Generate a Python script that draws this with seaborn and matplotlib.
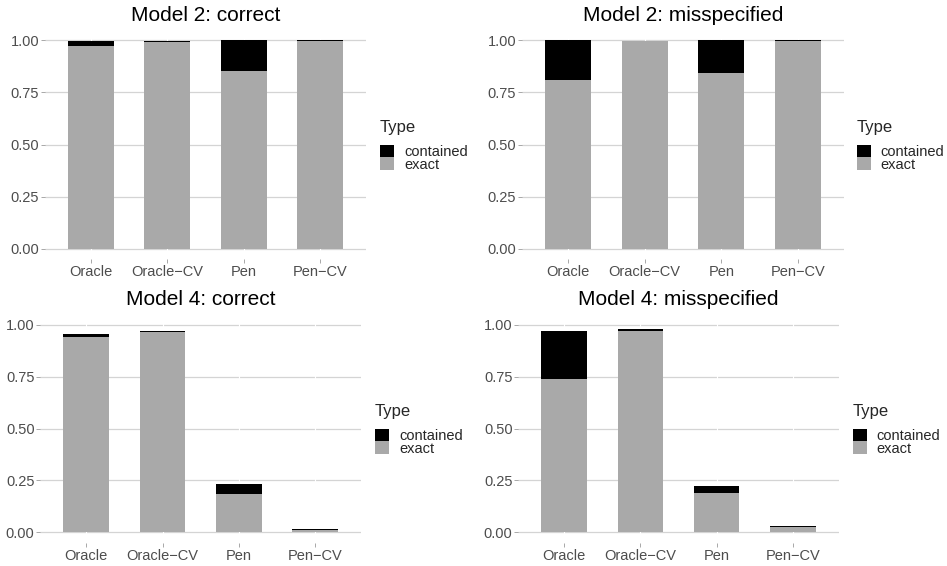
import matplotlib
matplotlib.use("Agg")
import matplotlib.pyplot as plt
from matplotlib.patches import Patch
import seaborn as sns
import pandas as pd

methods = ["Oracle", "Oracle−CV", "Pen", "Pen−CV"]
types = ["contained", "exact"]

m2c_exact = [0.975, 0.993, 0.854, 0.997]
m2c_contained = [0.023, 0.005, 0.146, 0.003]
m2m_exact = [0.810, 0.995, 0.843, 0.998]
m2m_contained = [0.190, 0.004, 0.157, 0.002]
m4c_exact = [0.942, 0.965, 0.186, 0.011]
m4c_contained = [0.013, 0.004, 0.047, 0.005]
m4m_exact = [0.738, 0.969, 0.191, 0.026]
m4m_contained = [0.231, 0.010, 0.034, 0.004]

titles = ["Model 2: correct", "Model 2: misspecified",
          "Model 4: correct", "Model 4: misspecified"]
yticks = [0.0, 0.25, 0.5, 0.75, 1.0]
ytick_labels = ["0.00", "0.25", "0.50", "0.75", "1.00"]

sns.set_theme(style="white")
plt.rcParams["font.family"] = ["Liberation Sans", "DejaVu Sans"]

W, H = 947, 566
fig = plt.figure(figsize=(W / 100, H / 100), dpi=100)

# panel boxes in pixels: left, right, top, bottom ; legend key left x, legend center y
boxes = [
    (45, 366, 29.9, 259.4, 380, 146),
    (522, 844, 29.9, 259.4, 856.7, 146),
    (40.4, 361, 314.3, 542.7, 375, 430),
    (518.4, 838.6, 314.3, 542.7, 852.7, 430),
]
series = [
    (m2c_exact, m2c_contained),
    (m2m_exact, m2m_contained),
    (m4c_exact, m4c_contained),
    (m4m_exact, m4m_contained),
]

EXACT = "#A9A9A9"
CONT = "#000000"

for (l, r, t, b, lx, ly), (ex, co), title in zip(boxes, series, titles):
    ax = fig.add_axes([l / W, 1 - b / H, (r - l) / W, (b - t) / H])
    df = pd.DataFrame({"Method": methods, "exact": ex, "contained": co})
    df["total"] = df["exact"] + df["contained"]
    ax.set_axisbelow(True)
    sns.barplot(data=df, x="Method", y="total", color=CONT, saturation=1,
                width=0.6, linewidth=0, ax=ax, order=methods)
    sns.barplot(data=df, x="Method", y="exact", color=EXACT, saturation=1,
                width=0.6, linewidth=0, ax=ax, order=methods)
    ax.set_xlim(-0.6, len(methods) - 0.4)
    ax.set_ylim(-0.05, 1.05)
    ax.set_yticks(yticks)
    ax.set_yticklabels(ytick_labels)
    ax.set_xlabel("")
    ax.set_ylabel("")
    for s in ax.spines.values():
        s.set_visible(False)
    ax.grid(axis="y", color="#D4D4D4", linewidth=0.9)
    ax.grid(axis="x", visible=False)
    for xt in ax.get_xticks():
        ax.axvline(xt, color="white", linewidth=0.8, zorder=0.6)
    ax.tick_params(axis="both", which="major", length=3, width=0.6,
                   color="#9A9A9A", labelsize=10.5, labelcolor="#4D4D4D",
                   pad=1.2, bottom=True, left=True)
    ax.set_title(title, fontsize=15, color="black", pad=6.5)

    handles = [Patch(facecolor=CONT, edgecolor="none", label="contained"),
               Patch(facecolor=EXACT, edgecolor="none", label="exact")]
    leg = ax.legend(handles=handles, title="Type", loc="center left",
                    bbox_to_anchor=(lx / W, 1 - ly / H),
                    bbox_transform=fig.transFigure, frameon=False,
                    fontsize=10.5, title_fontsize=12, borderaxespad=0,
                    borderpad=0, handlelength=0.95, handleheight=0.95,
                    handletextpad=0.7, labelspacing=-0.14, alignment="left")
    # gap between legend title and keys (points)
    leg._legend_box.sep = 7

fig.savefig("out.png", dpi=100)
